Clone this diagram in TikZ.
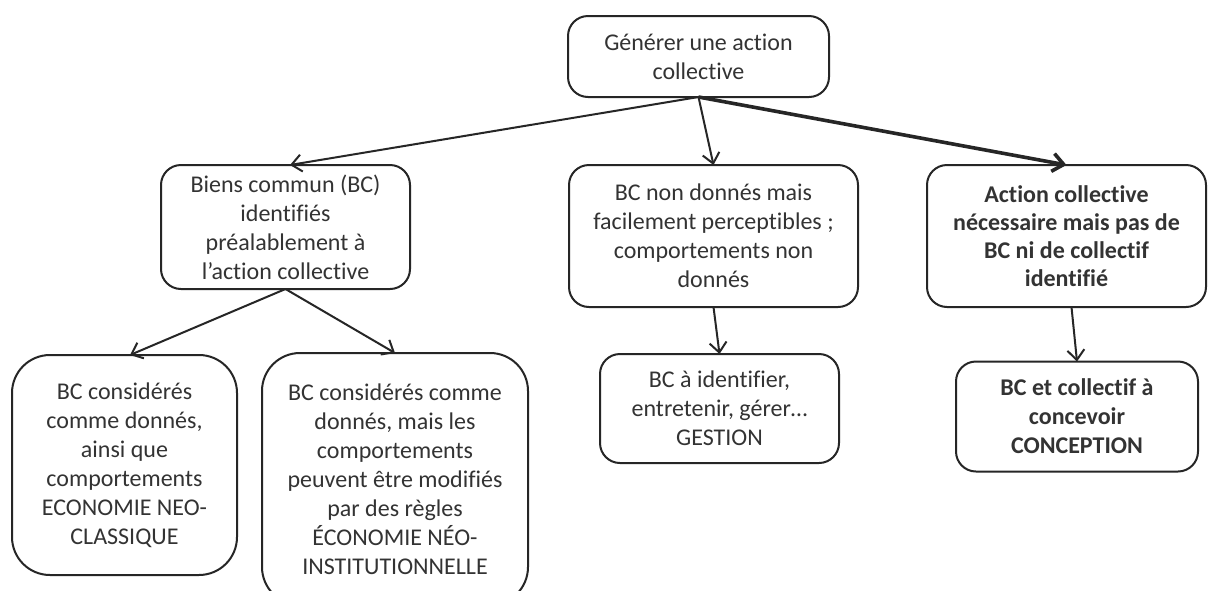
\documentclass[tikz,border=0pt]{standalone}
\usepackage{fontspec}
\setmainfont{Carlito}[Ligatures={NoCommon,NoRare,NoContextual}]
\usetikzlibrary{arrows.meta}
\begin{document}
\begin{tikzpicture}[x=1pt,y=-1pt,
  box/.style={draw=black!85, line width=2pt, rounded corners=20pt, inner sep=0pt, outer sep=0pt,
    align=center, font=\fontsize{24}{29}\selectfont, text=black!80},
  bigbox/.style={box, rounded corners=38pt},
  conn/.style={draw=black!85, line width=2pt, -{Straight Barb[length=10pt,width=17pt,line width=2pt]}},
  thickconn/.style={conn, line width=3.6pt, -{Straight Barb[length=11pt,width=18pt,line width=3.6pt]}}
]
\useasboundingbox (0,0) rectangle (1208,590);
\clip (0,0) rectangle (1208,590);
\fill[white] (0,0) rectangle (1208,590);

\node[box, minimum width=261pt, minimum height=81pt] (top) at (698.5,56.5)
  {Générer une action\\collective};
\node[box, minimum width=249pt, minimum height=124pt] (b1) at (285.5,227)
  {Biens commun (BC)\\identifiés\\préalablement à\\l’action collective};
\node[box, minimum width=289pt, minimum height=142pt] (b2) at (713.5,236)
  {BC non donnés mais\\facilement perceptibles ;\\comportements non\\donnés};
\node[box, minimum width=279pt, minimum height=142pt, font=\fontsize{24}{28}\selectfont\bfseries] (b3) at (1066.5,236)
  {Action collective\\nécessaire mais pas de\\BC ni de collectif\\identifié};
\node[bigbox, minimum width=225pt, minimum height=220pt] (bl) at (124.5,465)
  {BC considérés\\comme donnés,\\ainsi que\\comportements\\ECONOMIE NEO-\\CLASSIQUE};
\node[bigbox, minimum width=266pt, minimum height=252pt] (bml) at (395,479)
  {BC considérés comme\\donnés, mais les\\comportements\\peuvent être modifiés\\par des règles\\ÉCONOMIE NÉO-\\INSTITUTIONNELLE};
\node[box, minimum width=239pt, minimum height=109pt] (ml) at (719.5,408.5)
  {BC à identifier,\\entretenir, gérer…\\GESTION};
\node[box, minimum width=242pt, minimum height=110pt, font=\fontsize{24}{29}\selectfont\bfseries] (rl) at (1077,416.5)
  {BC et collectif à\\concevoir\\CONCEPTION};

\draw[conn] (top.south) -- ([xshift=4.5pt]b1.north);
\draw[conn] (top.south) -- (b2.north);
\draw[thickconn] (top.south) -- (b3.north);
\draw[conn] (b1.south) -- ([xshift=5.5pt]bl.north);
\draw[conn] (b1.south) -- (bml.north);
\draw[conn] (b2.south) -- (ml.north);
\draw[conn] ([xshift=5pt]b3.south) -- (rl.north);
\end{tikzpicture}
\end{document}
